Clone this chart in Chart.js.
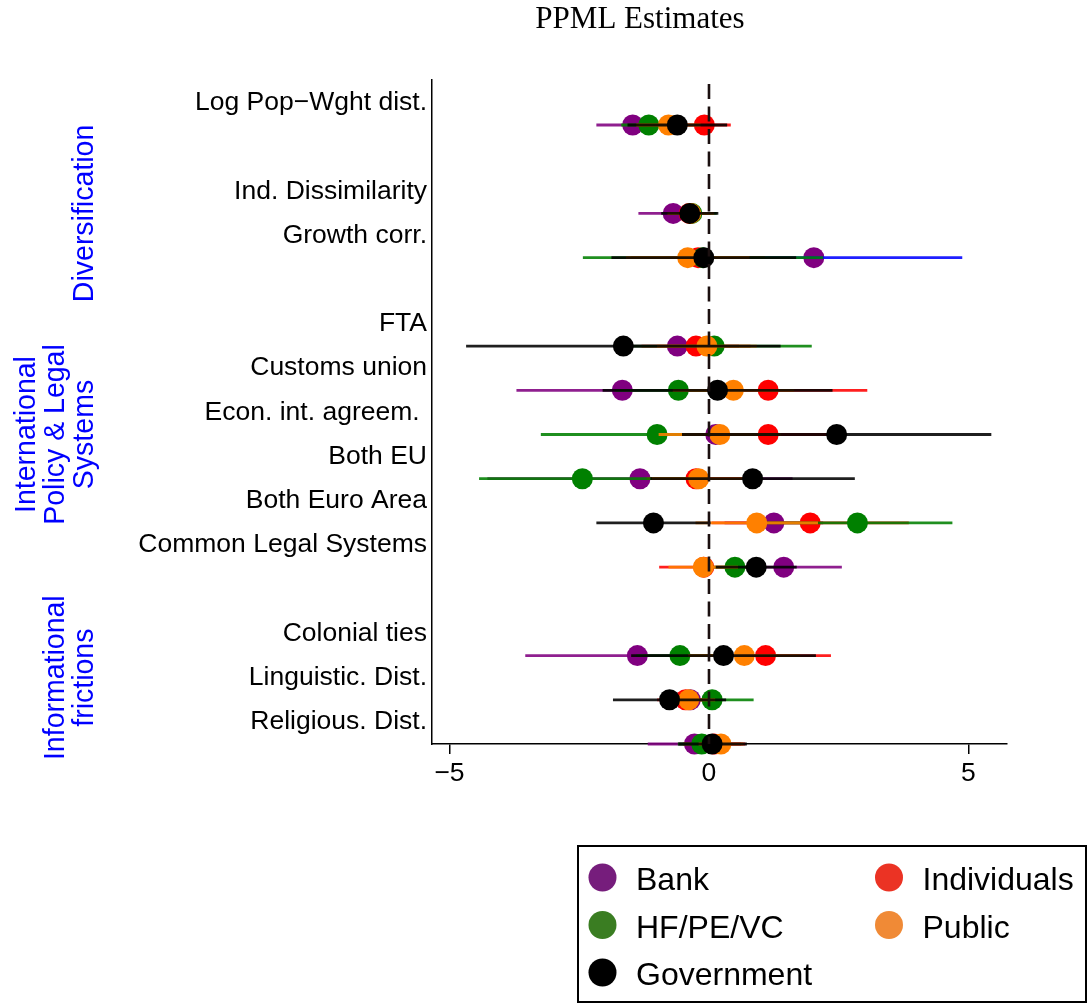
<!DOCTYPE html>
<html>
<head>
<meta charset="utf-8">
<script src="https://cdn.jsdelivr.net/npm/chart.js@4/dist/chart.umd.min.js"></script>
<style>
  html, body { margin: 0; padding: 0; background: #ffffff; }
  #wrap { width: 1090px; height: 1004px; }
</style>
</head>
<body>
<div id="wrap"><canvas id="c" width="1090" height="1004"></canvas></div>
<script>
// Regressors, top to bottom, and the row slot each one occupies (gaps separate the groups)
const rowLabels = [
  'Log Pop\u2212Wght dist.', 'Ind. Dissimilarity', 'Growth corr.',
  'FTA', 'Customs union', 'Econ. int. agreem. ', 'Both EU', 'Both Euro Area', 'Common Legal Systems',
  'Colonial ties', 'Linguistic. Dist.', 'Religious. Dist.'
];
const rowSlots = [0, 2, 3, 5, 6, 7, 8, 9, 10, 12, 13, 14];

const seriesNames = ['Bank', 'HF/PE/VC', 'Government', 'Individuals', 'Public'];

// PPML point estimates and confidence bounds, one array per investor type
const bankEst  = [-1.47, -0.69, 2.02, -0.61, -1.67, 0.13, -1.33, 1.25, 1.44, -1.38, -0.36, -0.28];
const bankLow  = [-2.17, -1.36, -0.84, -1.80, -3.71, -0.90, -4.27, 0.30, 0.32, -3.54, -0.90, -1.18];
const bankHigh = [-0.77, -0.02, 4.88, 0.58, 0.37, 1.16, 1.61, 2.20, 2.56, 0.78, 0.18, 0.62];

const hfEst  = [-1.16, -0.33, -0.12, 0.10, -0.59, -1.00, -2.44, 2.86, 0.50, -0.56, 0.06, -0.14];
const hfLow  = [-1.69, -0.75, -2.43, -1.78, -1.80, -3.24, -4.43, 1.03, -0.10, -1.40, -0.74, -0.60];
const hfHigh = [-0.63, 0.15, 2.20, 1.98, 0.62, 1.24, -0.45, 4.69, 1.10, 0.28, 0.86, 0.32];

const govEst  = [-0.61, -0.37, -0.10, -1.65, 0.165, 2.46, 0.84, -1.07, 0.91, 0.28, -0.76, 0.06];
const govLow  = [-1.57, -0.92, -1.88, -4.68, -2.05, -0.52, -1.13, -2.17, 0.13, -1.50, -1.85, -0.59];
const govHigh = [0.35, 0.18, 1.68, 1.38, 2.38, 5.44, 2.81, 0.03, 1.69, 2.06, 0.33, 0.73];

const indEst  = [-0.09, -0.38, -0.21, -0.25, 1.14, 1.14, -0.25, 1.95, -0.10, 1.09, -0.45, 0.10];
const indLow  = [-0.60, -0.80, -1.50, -1.30, -0.77, -0.20, -1.20, 0.05, -0.96, -0.17, -1.00, -0.50];
const indHigh = [0.42, 0.04, 1.08, 0.80, 3.05, 2.48, 0.70, 3.85, 0.76, 2.35, 0.10, 0.70];

const pubEst  = [-0.78, -0.35, -0.41, -0.04, 0.47, 0.21, -0.20, 0.92, -0.11, 0.68, -0.39, 0.23];
const pubLow  = [-1.40, -0.80, -1.60, -1.00, -0.70, -0.97, -1.10, -0.26, -0.78, -0.40, -0.90, -0.20];
const pubHigh = [-0.16, 0.10, 0.78, 0.92, 1.64, 1.39, 0.70, 2.10, 0.56, 1.76, 0.12, 0.66];

const xTickValues = [-5, 0, 5];

const groupLabels = [
  ['Diversification'],
  ['International', 'Policy & Legal', 'Systems'],
  ['Informational', 'frictions']
];

// ---- styling ----
const markColors   = ['#800080', '#008000', '#000000', '#FF0000', '#FF8000'];
const legendColors = ['#761D7C', '#3A7D22', '#000000', '#EB3324', '#F08A36'];
// stacking: Bank at the bottom, Government on top
const drawOrder    = [4, 2, 0, 3, 1];
const groupCentreSlots = [2, 7, 12.5];
const blueInterval = { series: 'Bank', row: 'Growth corr.' };

function rows(est, low, high) {
  return est.map((v, i) => ({ x: v, y: rowSlots[i], lo: low[i], hi: high[i] }));
}
const seriesRows = [
  rows(bankEst, bankLow, bankHigh),
  rows(hfEst, hfLow, hfHigh),
  rows(govEst, govLow, govHigh),
  rows(indEst, indLow, indHigh),
  rows(pubEst, pubLow, pubHigh)
];

const datasets = seriesNames.map((name, k) => ({
  label: name,
  data: seriesRows[k],
  order: drawOrder[k],
  pointRadius: 10.5,
  pointHoverRadius: 10.5,
  pointBorderWidth: 0,
  pointBackgroundColor: markColors[k],
  backgroundColor: markColors[k],
  borderColor: markColors[k],
  showLine: false,
  clip: false
}));

// horizontal confidence bars, drawn right after each series' markers
const intervalBars = {
  id: 'intervalBars',
  afterDatasetDraw(chart, args) {
    const ds = chart.data.datasets[args.index];
    const xs = chart.scales.x, ys = chart.scales.y;
    const ctx = chart.ctx;
    ctx.save();
    ctx.globalAlpha = 0.88;
    ctx.lineWidth = 2.8;
    ctx.lineCap = 'butt';
    ds.data.forEach((p, i) => {
      const blue = ds.label === blueInterval.series && rowLabels[i] === blueInterval.row;
      ctx.strokeStyle = blue ? '#0000FF' : ds.borderColor;
      const y = ys.getPixelForValue(p.y);
      ctx.beginPath();
      ctx.moveTo(xs.getPixelForValue(p.lo), y);
      ctx.lineTo(xs.getPixelForValue(p.hi), y);
      ctx.stroke();
    });
    ctx.restore();
  }
};

// dashed reference line at zero
const zeroLine = {
  id: 'zeroLine',
  afterDatasetsDraw(chart) {
    const { ctx, chartArea } = chart;
    const x = chart.scales.x.getPixelForValue(0);
    ctx.save();
    ctx.strokeStyle = '#1a0f0f';
    ctx.lineWidth = 2.6;
    ctx.setLineDash([15, 7.5]);
    ctx.beginPath();
    ctx.moveTo(x, chartArea.top + 4);
    ctx.lineTo(x, chartArea.bottom);
    ctx.stroke();
    ctx.restore();
  }
};

// title, group captions and the boxed legend
const decorations = {
  id: 'decorations',
  afterDraw(chart) {
    const ctx = chart.ctx;
    const ys = chart.scales.y;
    ctx.save();

    ctx.fillStyle = '#000000';
    ctx.font = '31px "Liberation Serif"';
    ctx.textAlign = 'center';
    ctx.textBaseline = 'alphabetic';
    ctx.fillText('PPML Estimates', 640, 28);

    ctx.fillStyle = '#0000FF';
    ctx.font = '30px "Liberation Sans"';
    groupLabels.forEach((lines, g) => {
      const yc = ys.getPixelForValue(groupCentreSlots[g]);
      const n = lines.length;
      lines.forEach((txt, j) => {
        const xb = 93 - (n - 1 - j) * 29;
        ctx.save();
        ctx.translate(xb, yc);
        ctx.rotate(-Math.PI / 2);
        ctx.scale(0.95, 1);
        ctx.textAlign = 'center';
        ctx.fillText(txt, 0, 0);
        ctx.restore();
      });
    });

    // legend
    ctx.strokeStyle = '#000000';
    ctx.lineWidth = 2;
    ctx.strokeRect(578, 846, 508, 156);
    ctx.font = '32px "Liberation Sans"';
    ctx.textAlign = 'left';
    const cols = [602.5, 889];
    const rowsY = [877.5, 925, 972.5];
    seriesNames.forEach((name, k) => {
      const c = k < 3 ? 0 : 1;
      const r = k < 3 ? k : k - 3;
      const cx = cols[c], cy = rowsY[r];
      ctx.fillStyle = legendColors[k];
      ctx.beginPath();
      ctx.arc(cx, cy, 14, 0, Math.PI * 2);
      ctx.fill();
      ctx.fillStyle = '#000000';
      ctx.fillText(name, cx + 33.5, cy + 12.5);
    });
    ctx.restore();
  }
};

Chart.defaults.font.family = '"Liberation Sans", Arial, sans-serif';
Chart.defaults.color = '#000000';

new Chart(document.getElementById('c'), {
  type: 'scatter',
  data: { datasets },
  options: {
    responsive: false,
    animation: false,
    devicePixelRatio: 1,
    events: [],
    layout: { padding: { left: 0, top: 80, right: 83, bottom: 200 } },
    plugins: { legend: { display: false }, tooltip: { enabled: false }, title: { display: false } },
    scales: {
      x: {
        type: 'linear',
        min: -5.337,
        max: 5.742,
        afterBuildTicks: s => { s.ticks = xTickValues.map(v => ({ value: v })); },
        afterFit: s => { s.height = 60; },
        ticks: {
          autoSkip: false,
          maxRotation: 0,
          padding: 4,
          font: { size: 26.5 },
          color: '#000000',
          callback: v => (v < 0 ? '\u2212' + Math.abs(v) : String(v))
        },
        grid: { display: true, drawOnChartArea: false, drawTicks: true, tickLength: 10, color: '#000000', lineWidth: 1.5 },
        border: { display: true, color: '#000000', width: 1.5 }
      },
      y: {
        type: 'linear',
        reverse: true,
        min: -1.018,
        max: 14,
        afterBuildTicks: s => { s.ticks = rowSlots.map(v => ({ value: v - 0.5 })); },
        afterFit: s => { s.width = 432; },
        ticks: {
          autoSkip: false,
          padding: 5,
          font: { size: 26.5 },
          color: '#000000',
          callback: (v, i) => rowLabels[i]
        },
        grid: { display: false, drawTicks: false },
        border: { display: true, color: '#000000', width: 1.5 }
      }
    }
  },
  plugins: [intervalBars, zeroLine, decorations]
});
</script>
</body>
</html>
